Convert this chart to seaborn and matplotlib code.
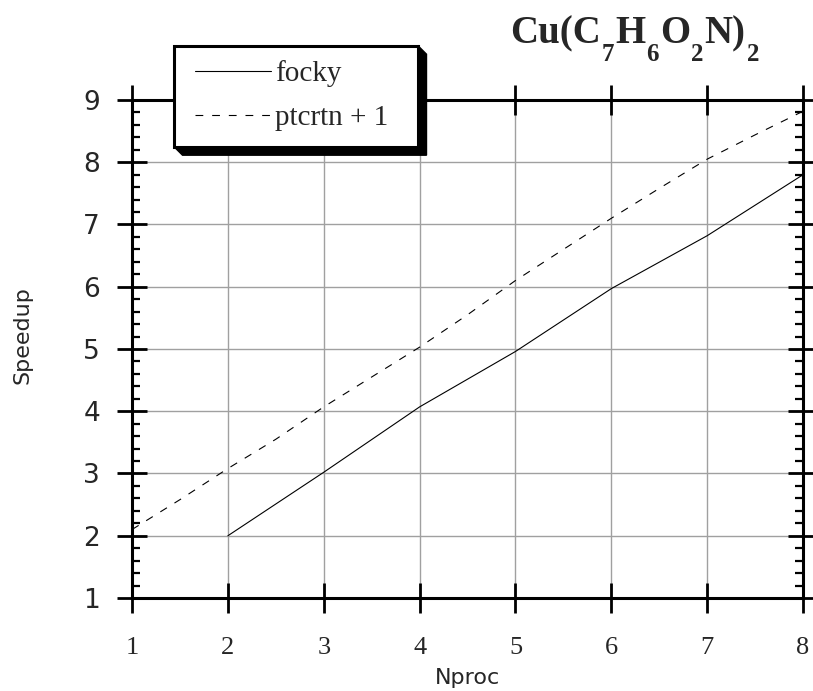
import numpy as np
import pandas as pd
import matplotlib
matplotlib.use("Agg")
import matplotlib.pyplot as plt
import matplotlib.patches as mpatches
import seaborn as sns

## Data
nproc_focky = [2, 3, 4, 5, 6, 7, 8]
speedup_focky = [2.0, 3.02, 4.07, 4.96, 5.97, 6.82, 7.8]

nproc_ptcrtn = [1, 1.5, 2, 2.5, 3, 3.5, 4, 4.5, 5, 5.5, 6, 6.5, 7, 7.5, 8]
speedup_ptcrtn = [2.1, 2.58, 3.08, 3.55, 4.07, 4.55, 5.03, 5.55, 6.1, 6.6, 7.1, 7.58, 8.05, 8.44, 8.82]

x_ticks = [1, 2, 3, 4, 5, 6, 7, 8]
y_ticks = [1, 2, 3, 4, 5, 6, 7, 8, 9]

# title pieces: (text, is_subscript)
title_parts = [("Cu(C", False), ("7", True), ("H", False), ("6", True),
               ("O", False), ("2", True), ("N)", False), ("2", True)]
labels = ["focky", "ptcrtn + 1"]

## Style
sns.set_theme(style="whitegrid")
plt.rcParams["font.family"] = ["DejaVu Sans"]

W, H = 813, 691
fig = plt.figure(figsize=(W / 100, H / 100), dpi=100)
ax = fig.add_axes([0.1624, 0.1346, 0.8254, 0.7207])

focky = pd.DataFrame({"Nproc": nproc_focky, "Speedup": speedup_focky})
ptcrtn = pd.DataFrame({"Nproc": nproc_ptcrtn, "Speedup": speedup_ptcrtn})

sns.lineplot(data=focky, x="Nproc", y="Speedup", ax=ax, color="black",
             linewidth=0.8, label=labels[0])
sns.lineplot(data=ptcrtn, x="Nproc", y="Speedup", ax=ax, color="black",
             linewidth=0.8, linestyle=(0, (7, 8)), label=labels[1])

ax.set_xlim(1, 8)
ax.set_ylim(1, 9)
ax.set_xticks(x_ticks)
ax.set_yticks(y_ticks)
ax.set_xticklabels([str(t) for t in x_ticks], family="Liberation Serif", fontsize=19)
ax.set_yticklabels([str(t) for t in y_ticks], fontsize=19)
ax.yaxis.set_minor_locator(matplotlib.ticker.AutoMinorLocator(5))

ax.grid(True, which="major", color="#a0a0a0", linewidth=1.0)
ax.set_facecolor("white")
for s in ax.spines.values():
    s.set_visible(True)
    s.set_color("black")
    s.set_linewidth(2.2)

ax.tick_params(axis="both", which="major", direction="inout", length=22, width=2.0,
               color="black", top=True, right=True, bottom=True, left=True)
ax.tick_params(axis="x", which="major", pad=17)
ax.tick_params(axis="y", which="major", pad=12)
ax.tick_params(axis="y", which="minor", direction="in", length=6, width=1.6,
               color="black", left=True, right=True)

ax.set_xlabel("Nproc", fontsize=16)
ax.set_ylabel("Speedup", fontsize=16)
ax.xaxis.set_label_coords(0.5, -0.14)
ax.yaxis.set_label_coords(-0.149, 0.528)

## Legend with a boxed, extruded frame
ax.get_legend().remove()
handles, _ = ax.get_legend_handles_labels()

bx0, by0, bx1, by1, depth = 174, 45.7, 418, 146.7, 8.5   # pixels from top-left


def fp(x, y):
    return (x / W, 1 - y / H)


shadow = mpatches.Polygon([fp(bx1, by0), fp(bx1 + depth, by0 + depth),
                           fp(bx1 + depth, by1 + depth), fp(bx0 + depth, by1 + depth),
                           fp(bx0, by1)],
                          closed=True, transform=fig.transFigure,
                          facecolor="black", edgecolor="black", zorder=3)
frame = mpatches.Rectangle(fp(bx0, by1), (bx1 - bx0) / W, (by1 - by0) / H,
                           transform=fig.transFigure, facecolor="white",
                           edgecolor="black", linewidth=2.2, zorder=3.1)
fig.add_artist(shadow)
fig.add_artist(frame)

leg = fig.legend(handles, labels, loc="upper left", bbox_to_anchor=fp(195, 60),
                 borderaxespad=0, borderpad=0, frameon=False,
                 prop={"family": "Liberation Serif", "size": 21},
                 handlelength=2.6, handletextpad=0.15, labelspacing=0.61)
leg.set_zorder(4)

## Title with lowered subscripts
renderer = fig.canvas.get_renderer()
x_px, base_px = 510, 43
for text, sub in title_parts:
    size = 18 if sub else 28
    y_px = base_px + 18 if sub else base_px
    t = fig.text(x_px / W, 1 - y_px / H, text, fontsize=size, fontweight="bold",
                 family="Liberation Serif", ha="left", va="baseline")
    x_px = t.get_window_extent(renderer).x1 + 1

plt.savefig("out.png", dpi=100)
